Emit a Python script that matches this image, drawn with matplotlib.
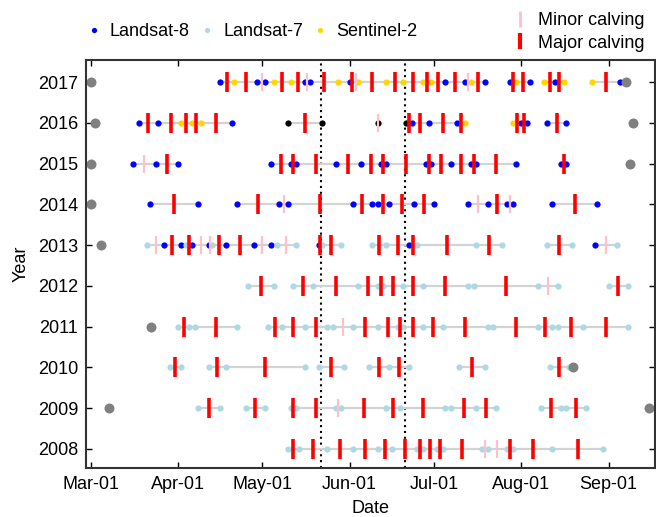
import matplotlib
matplotlib.use("Agg")
import matplotlib.pyplot as plt
from matplotlib.lines import Line2D

plt.rcParams["font.family"] = ["Liberation Sans", "DejaVu Sans"]
plt.rcParams["font.size"] = 13

# ==========================================
# Data (x values are day of year)
# ==========================================

years = [2008, 2009, 2010, 2011, 2012, 2013, 2014, 2015, 2016, 2017]

# each year: groups of consecutive images (joined by a grey line)
obs_2017 = [
    [(106, "L8"), (111, "S2"), (119, "L8"), (122, "L8"), (125, "S2"), (131, "S2"),
     (136, "L8"), (138, "L8"), (148, "S2"), (152, "L8"), (155, "S2"), (165, "S2"),
     (171, "S2"), (178, "S2"), (181, "S2"), (186, "L8"), (193, "L8"), (195, "S2"),
     (200, "L8")],
    [(209, "L8"), (211, "S2"), (216, "L8")],
    [(221, "S2"), (225, "L8"), (228, "S2")],
    [(238, "S2"), (248, "L8")],
]
major_2017 = [108.5, 115, 128, 133.5, 143, 152.8, 160, 168, 174.5, 179.5, 183.5,
              189.5, 197.5, 210, 213.5, 223, 226.5, 243]
minor_2017 = [121, 137, 154.3, 194]

obs_2016 = [
    [(77, "L8"), (84, "L8"), (92, "S2"), (96, "S2"), (99, "S2"), (110, "L8")],
    [(130, "BK"), (142, "BK")],
    [(162, "BK")],
    [(172, "BK"), (174, "L8"), (180, "L8"), (190, "L8"), (193, "S2")],
    [(210, "S2"), (213, "L8"), (215, "L8")],
    [(222, "L8"), (229, "L8")],
]
major_2016 = [80.5, 88.5, 94, 97.5, 104.5, 136, 173, 177, 185, 191.5, 211.5, 214, 225.5]
minor_2016 = [162]

obs_2015 = [
    [(75, "L8"), (83, "L8"), (91, "L8")],
    [(124, "L8"), (131, "L8"), (133, "L8"), (147, "L8"), (156, "L8"), (163, "L8"),
     (165, "L8"), (179, "L8"), (181, "L8"), (188, "L8"), (195, "L8"), (197, "L8"),
     (211, "L8")],
    [(227, "L8"), (229, "L8")],
]
major_2015 = [87, 127.5, 132, 140, 151.5, 159.5, 164, 172, 180, 184.5, 191.5, 196, 204, 228]
minor_2015 = [79]

obs_2014 = [
    [(81, "L8"), (98, "L8")],
    [(112, "L8"), (127, "L8"), (130, "L8"), (153, "L8"), (160, "L8"), (162, "L8"),
     (166, "L8"), (175, "L8"), (182, "L8")],
    [(194, "L8"), (201, "L8"), (208, "L8"), (210, "L8")],
    [(224, "L8"), (240, "L8")],
]
major_2014 = [89.5, 119.5, 141.5, 156.5, 164, 170.5, 178.5, 204.5, 232]
minor_2014 = [128.5, 197.5, 209]

obs_2013 = [
    [(80, "L7"), (86, "L8"), (92, "L8"), (94, "L7"), (96, "L8"), (102, "L8"),
     (103, "L7"), (108, "L8"), (118, "L8"), (124, "L8"), (126, "L7"), (133, "L7")],
    [(141, "L8"), (142, "L7"), (149, "L7")],
    [(160, "L7"), (165, "L7"), (173, "L8"), (176, "L7"), (197, "L7"), (206, "L7")],
    [(222, "L7"), (231, "L7")],
    [(239, "L8"), (247, "L7")],
]
major_2013 = [89, 95, 105.5, 113, 141.5, 145.5, 162.5, 169, 174.5, 186.5, 201.5, 226.5]
minor_2013 = [83, 99, 102.5, 121, 129.5, 243]

obs_2012 = [
    [(116, "L7"), (125, "L7")],
    [(132, "L7"), (139, "L7"), (155, "L7"), (162, "L7"), (164, "L7"), (171, "L7"),
     (178, "L7"), (194, "L7"), (196, "L7"), (219, "L7"), (226, "L7")],
    [(244, "L7"), (251, "L7")],
]
major_2012 = [120.5, 135.5, 147, 158.5, 163, 167.5, 174.5, 186, 207.5, 247.5]
minor_2012 = [222.5]

obs_2011 = [
    [(91, "L7"), (95, "L7"), (97, "L7"), (112, "L7")],
    [(123, "L7"), (128, "L7"), (136, "L7"), (144, "L7"), (146, "L7"), (153, "L7"),
     (162, "L7"), (169, "L7"), (171, "L7"), (178, "L7"), (185, "L7"), (201, "L7"),
     (203, "L7"), (219, "L7"), (224, "L7"), (226, "L7"), (235, "L7"), (251, "L7")],
]
major_2011 = [93, 104.5, 125.5, 132, 140, 157.5, 165.5, 170, 174.5, 181.5, 193, 211,
              221.5, 230.5, 243]
minor_2011 = [149.5]

obs_2010 = [
    [(88, "L7"), (92, "L7")],
    [(102, "L7"), (108, "L7"), (136, "L7")],
    [(141, "L7"), (150, "L7")],
    [(159, "L7"), (166, "L7"), (173, "L7")],
    [(191, "L7"), (200, "L7")],
    [(223, "L7"), (230, "L7")],
]
major_2010 = [90, 105, 122, 145.5, 162.5, 169.5, 195.5, 226.5]
minor_2010 = []

obs_2009 = [
    [(98, "L7"), (106, "L7")],
    [(115, "L7"), (122, "L7")],
    [(131, "L7"), (133, "L7"), (147, "L7"), (149, "L7"), (165, "L7"), (170, "L7"),
     (186, "L7"), (188, "L7"), (197, "L7"), (204, "L7")],
    [(220, "L7"), (227, "L7"), (229, "L7"), (236, "L7")],
]
major_2009 = [102, 118.5, 132, 140, 157, 167.5, 178, 192.5, 200.5, 223.5, 232.5]
minor_2009 = [148]

obs_2008 = [
    [(130, "L7"), (134, "L7"), (144, "L7"), (153, "L7"), (162, "L7"), (167, "L7"),
     (176, "L7"), (178, "L7"), (183, "L7"), (185, "L7"), (199, "L7"), (201, "L7"),
     (208, "L7"), (210, "L7"), (224, "L7"), (242, "L7")],
]
major_2008 = [132, 139, 148.5, 157.5, 164.5, 171.5, 177, 180.5, 184, 192, 209, 217, 233]
minor_2008 = [200, 204.5]

# grey circles
circle_year = [2017, 2017, 2016, 2016, 2015, 2015, 2014, 2013, 2011, 2010, 2009, 2009]
circle_doy = [60, 250, 61.5, 252.5, 60, 251.5, 60, 63.5, 81.5, 231.5, 66.5, 258.5]

# dotted reference dates
ref_doy = [141.7, 171.7]

month_doy = [60, 91, 121, 152, 182, 213, 244]
month_labels = ["Mar-01", "Apr-01", "May-01", "Jun-01", "Jul-01", "Aug-01", "Sep-01"]

sensor_colors = {"L8": "blue", "L7": "lightblue", "S2": "gold", "BK": "black"}

rows = {
    2017: (obs_2017, major_2017, minor_2017),
    2016: (obs_2016, major_2016, minor_2016),
    2015: (obs_2015, major_2015, minor_2015),
    2014: (obs_2014, major_2014, minor_2014),
    2013: (obs_2013, major_2013, minor_2013),
    2012: (obs_2012, major_2012, minor_2012),
    2011: (obs_2011, major_2011, minor_2011),
    2010: (obs_2010, major_2010, minor_2010),
    2009: (obs_2009, major_2009, minor_2009),
    2008: (obs_2008, major_2008, minor_2008),
}

# ==========================================
# Plot
# ==========================================

fig = plt.figure(figsize=(6.56, 5.17), dpi=100)
ax = fig.add_axes([86 / 656, 49 / 517, 568.5 / 656, 408 / 517])

for year, (groups, major, minor) in rows.items():
    for group in groups:
        xs = [d for d, s in group]
        ax.plot(xs, [year] * len(xs), color="lightgray", lw=1.6, zorder=1)
        for code, col in sensor_colors.items():
            pts = [d for d, s in group if s == code]
            if pts:
                ax.plot(pts, [year] * len(pts), "o", color=col, ms=4.5, mew=0, zorder=1.5)
    ax.plot(minor, [year] * len(minor), "|", color="pink", ms=13.5, mew=1.6, zorder=2)
    ax.plot(major, [year] * len(major), "|", color="red", ms=14.5, mew=2.6, zorder=2.1)

ax.plot(circle_doy, circle_year, "o", color="gray", ms=7.2, mew=0, zorder=2.3, clip_on=False)

for d in ref_doy:
    ax.axvline(d, color="black", lw=1.5, linestyle=(0, (1, 1.8)), zorder=0.5)

ax.set_xlim(58.3, 260.3)
ax.set_ylim(2007.53, 2017.54)
ax.set_xticks(month_doy, month_labels)
ax.set_yticks(years)
ax.tick_params(direction="in", top=True, right=True, length=4, width=1)
ax.tick_params(axis="x", pad=5.5)
ax.tick_params(axis="y", pad=5.5)
for sp in ax.spines.values():
    sp.set_linewidth(1.5)
    sp.set_color("#333333")

ax.set_xlabel("Date", labelpad=5)
ax.set_ylabel("Year", labelpad=6)

# ==========================================
# Legends
# ==========================================

sensor_handles = [
    Line2D([], [], ls="none", marker="o", ms=3.8, mew=0, color="blue"),
    Line2D([], [], ls="none", marker="o", ms=3.8, mew=0, color="lightblue"),
    Line2D([], [], ls="none", marker="o", ms=3.8, mew=0, color="gold"),
]
leg1 = fig.legend(sensor_handles, ["Landsat-8", "Landsat-7", "Sentinel-2"],
                  loc="center left", bbox_to_anchor=(89 / 656, 1 - 32 / 517),
                  ncol=3, frameon=False, handlelength=0.5, handletextpad=0.65,
                  columnspacing=0.7, borderpad=0, borderaxespad=0)

calving_handles = [
    Line2D([], [], ls="none", marker="|", ms=11, mew=2, color="pink"),
    Line2D([], [], ls="none", marker="|", ms=12, mew=3, color="red"),
]
leg2 = fig.legend(calving_handles, ["Minor calving", "Major calving"],
                  loc="center left", bbox_to_anchor=(515.5 / 656, 1 - 32 / 517),
                  frameon=False, handlelength=0.5, handletextpad=0.75,
                  labelspacing=0.3, borderpad=0, borderaxespad=0)

fig.savefig("out.png", dpi=100)
